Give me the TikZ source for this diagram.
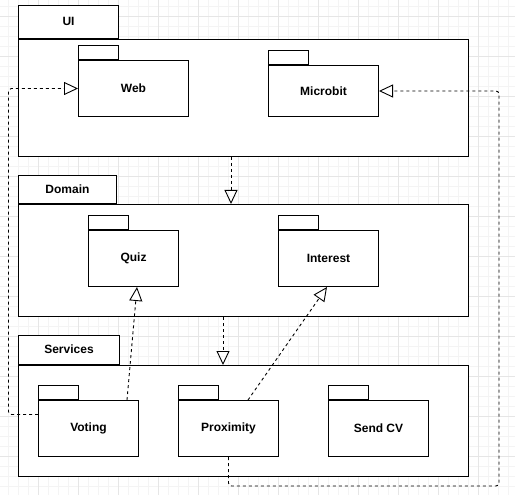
\documentclass[tikz,border=0pt]{standalone}
\usepackage{fontspec}
\setmainfont{Liberation Sans}
\usetikzlibrary{arrows.meta,calc}
\definecolor{gridminor}{HTML}{F4F4F4}
\definecolor{gridmajor}{HTML}{E6E6E6}
\begin{document}
\begin{tikzpicture}[x=1pt,y=-1pt,
  pkg/.style={draw=black, line width=1pt, fill=white, rectangle, inner sep=0pt,
    anchor=north west, font=\fontsize{12}{14}\selectfont\bfseries},
  pkgtab/.style={pkg, anchor=south west},
  realize/.style={draw=black, line width=0.9pt, dash pattern=on 3pt off 3pt,
    rounded corners=3pt, -{Triangle[open, length=14pt, width=13pt, line width=0.9pt]}}
]
\useasboundingbox (0,0) rectangle (515,495);
\fill[white] (0,0) rectangle (515,495);

% background grid
\foreach \x in {8.5,18.5,...,515} \draw[gridminor, line width=0.8pt] (\x,0) -- (\x,495);
\foreach \y in {6,16,...,495} \draw[gridminor, line width=0.8pt] (0,\y) -- (515,\y);
\foreach \x in {-1.5,38.5,...,515} \draw[gridmajor, line width=0.8pt] (\x,0) -- (\x,495);
\foreach \y in {16,56,...,495} \draw[gridmajor, line width=0.8pt] (0,\y) -- (515,\y);

% layer packages
\node[pkg, minimum width=450, minimum height=117] (ui) at (18,39) {};
\node[pkgtab, minimum width=100, minimum height=33] (uitab) at (ui.north west) {\raisebox{2pt}{UI}};

\node[pkg, minimum width=450, minimum height=112] (domain) at (18,204) {};
\node[pkgtab, minimum width=98, minimum height=28] (domaintab) at (domain.north west) {\raisebox{1pt}{Domain}};

\node[pkg, minimum width=450, minimum height=111] (svc) at (18,365) {};
\node[pkgtab, minimum width=101, minimum height=29] (svctab) at (svc.north west) {\raisebox{2pt}{Services}};

% UI packages
\node[pkg, minimum width=110, minimum height=56] (web) at (78,60) {Web};
\node[pkgtab, minimum width=40, minimum height=14] (webtab) at (web.north west) {};
\node[pkg, minimum width=110, minimum height=51] (microbit) at (268,65) {Microbit};
\node[pkgtab, minimum width=40, minimum height=14] (microbittab) at (microbit.north west) {};

% Domain packages
\node[pkg, minimum width=90, minimum height=56] (quiz) at (88,230) {Quiz};
\node[pkgtab, minimum width=40, minimum height=14] (quiztab) at (quiz.north west) {};
\node[pkg, minimum width=100, minimum height=56] (interest) at (278,230) {Interest};
\node[pkgtab, minimum width=40, minimum height=14] (interesttab) at (interest.north west) {};

% Services packages
\node[pkg, minimum width=100, minimum height=56] (voting) at (38,400) {Voting};
\node[pkgtab, minimum width=40, minimum height=14] (votingtab) at (voting.north west) {};
\node[pkg, minimum width=100, minimum height=56] (prox) at (178,400) {Proximity};
\node[pkgtab, minimum width=40, minimum height=14] (proxtab) at (prox.north west) {};
\node[pkg, minimum width=100, minimum height=56] (sendcv) at (328,400) {Send CV};
\node[pkgtab, minimum width=40, minimum height=14] (sendcvtab) at (sendcv.north west) {};

% dependencies between layers
\draw[realize] ($(ui.south west)+(213,0)$) -- ($(domain.north west)+(213,0)$);
\draw[realize] ($(domain.south west)+(205,0)$) -- ($(svc.north west)+(205,0)$);

% dependencies between packages
\draw[realize] ($(voting.north west)+(89,0)$) -- ($(quiz.south west)+(49,0)$);
\draw[realize] ($(prox.north west)+(70,0)$) -- ($(interest.south west)+(49,0)$);
\draw[realize] ($(voting.west)+(0,-14)$) -- ++(-29.5,0) |- (web.west);
\draw[realize] (prox.south) -- ++(0,29) -| ($(microbit.east)+(120,0)$) -- (microbit.east);
\end{tikzpicture}
\end{document}
